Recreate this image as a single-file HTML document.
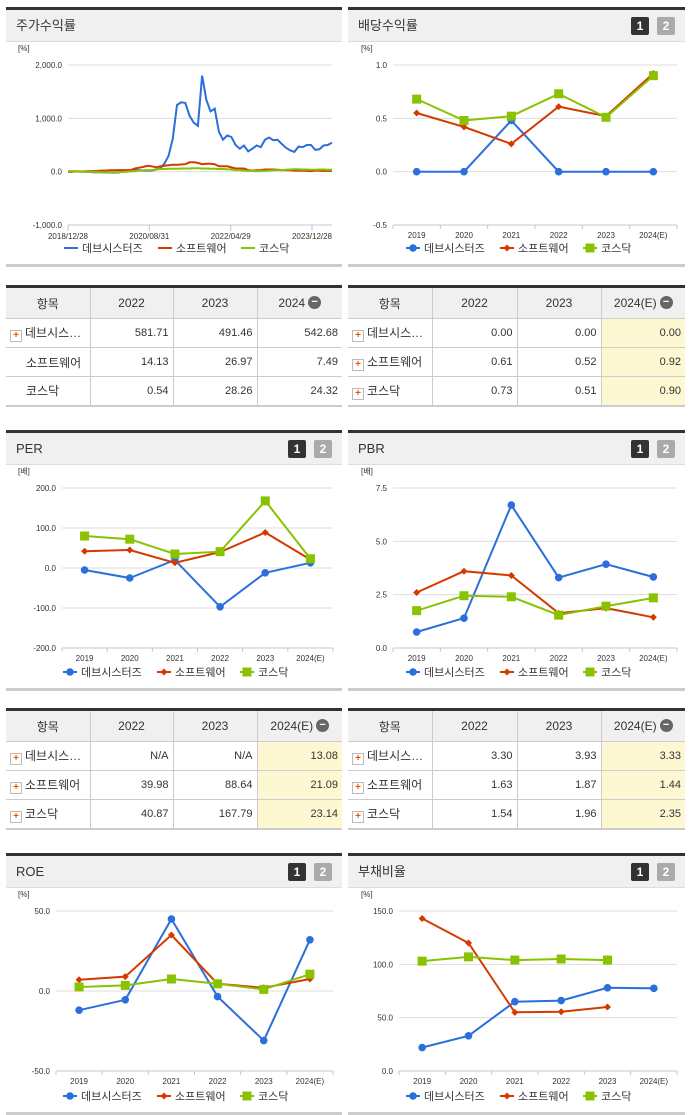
<!DOCTYPE html>
<html><head><meta charset="utf-8">
<style>
body{margin:0;width:691px;height:1115px;position:relative;background:#fff;font-family:"Liberation Sans","Noto Sans CJK KR",sans-serif;overflow:hidden;color:#333}
.panel{position:absolute;border-top:3px solid #333;border-bottom:3px solid #ccc;box-sizing:border-box}
.hd{height:31px;background:#f0f0f0;border-bottom:1px solid #ddd;font-size:13px;line-height:31px;padding-left:10px;position:relative}
.b{position:absolute;top:7px;width:18px;height:18px;font-size:12px;font-weight:bold;color:#fff;text-align:center;line-height:18px;border-radius:2px}
table{position:absolute;border-collapse:collapse;font-size:12px;border-top:3px solid #333;border-bottom:2px solid #ccc}
td{border:1px solid #ccc;height:29px;text-align:right;padding-right:4px;box-sizing:border-box;font-size:11px}
tr:first-child td{background:#f0f0f0;text-align:center;height:32px;font-size:12px;padding:0;white-space:nowrap}
td.n{text-align:left;padding-left:4px;font-size:12px}
tr td:first-child{border-left:none}tr td:last-child{border-right:none}
.y{background:#fdf8d2}
.p{display:inline-block;width:10px;height:10px;border:1px solid #bbb;background:#fff;color:#e85a00;font-size:10px;line-height:10px;text-align:center;font-weight:bold;margin-right:3px;vertical-align:-1px}
.m{display:inline-block;width:13px;height:13px;border-radius:50%;background:#666;color:#fff;line-height:12px;font-size:11px;font-weight:bold;vertical-align:middle;margin-left:3px;margin-top:-2px}
svg{position:absolute;left:0;top:0}
</style></head><body>
<div class="panel" style="left:6px;top:7px;width:336px;height:260px"><div class="hd">주가수익률</div></div>
<div class="panel" style="left:348px;top:7px;width:337px;height:260px"><div class="hd">배당수익률<span class="b" style="left:283px;background:#333">1</span><span class="b" style="left:309px;background:#aaa">2</span></div></div>
<div class="panel" style="left:6px;top:430px;width:336px;height:261px"><div class="hd">PER<span class="b" style="left:282px;background:#333">1</span><span class="b" style="left:308px;background:#aaa">2</span></div></div>
<div class="panel" style="left:348px;top:430px;width:337px;height:261px"><div class="hd">PBR<span class="b" style="left:283px;background:#333">1</span><span class="b" style="left:309px;background:#aaa">2</span></div></div>
<div class="panel" style="left:6px;top:853px;width:336px;height:262px"><div class="hd">ROE<span class="b" style="left:282px;background:#333">1</span><span class="b" style="left:308px;background:#aaa">2</span></div></div>
<div class="panel" style="left:348px;top:853px;width:337px;height:262px"><div class="hd">부채비율<span class="b" style="left:283px;background:#333">1</span><span class="b" style="left:309px;background:#aaa">2</span></div></div>

<table style="left:6px;top:285px;width:336px">
<tr><td style="width:84px">항목</td><td style="width:83px">2022</td><td style="width:84px">2023</td><td>2024<span class="m">−</span></td></tr>
<tr><td class="n"><span class="p">+</span>데브시스…</td><td>581.71</td><td>491.46</td><td>542.68</td></tr>
<tr><td class="n" style="padding-left:20px">소프트웨어</td><td>14.13</td><td>26.97</td><td>7.49</td></tr>
<tr><td class="n" style="padding-left:20px">코스닥</td><td>0.54</td><td>28.26</td><td>24.32</td></tr></table>

<table style="left:348px;top:285px;width:337px">
<tr><td style="width:84px">항목</td><td style="width:85px">2022</td><td style="width:84px">2023</td><td>2024(E)<span class="m">−</span></td></tr>
<tr><td class="n"><span class="p">+</span>데브시스…</td><td>0.00</td><td>0.00</td><td class="y">0.00</td></tr>
<tr><td class="n"><span class="p">+</span>소프트웨어</td><td>0.61</td><td>0.52</td><td class="y">0.92</td></tr>
<tr><td class="n"><span class="p">+</span>코스닥</td><td>0.73</td><td>0.51</td><td class="y">0.90</td></tr></table>

<table style="left:6px;top:708px;width:336px">
<tr><td style="width:84px">항목</td><td style="width:83px">2022</td><td style="width:84px">2023</td><td class="y">2024(E)<span class="m">−</span></td></tr>
<tr><td class="n"><span class="p">+</span>데브시스…</td><td>N/A</td><td>N/A</td><td class="y">13.08</td></tr>
<tr><td class="n"><span class="p">+</span>소프트웨어</td><td>39.98</td><td>88.64</td><td class="y">21.09</td></tr>
<tr><td class="n"><span class="p">+</span>코스닥</td><td>40.87</td><td>167.79</td><td class="y">23.14</td></tr></table>

<table style="left:348px;top:708px;width:337px">
<tr><td style="width:84px">항목</td><td style="width:85px">2022</td><td style="width:84px">2023</td><td class="y">2024(E)<span class="m">−</span></td></tr>
<tr><td class="n"><span class="p">+</span>데브시스…</td><td>3.30</td><td>3.93</td><td class="y">3.33</td></tr>
<tr><td class="n"><span class="p">+</span>소프트웨어</td><td>1.63</td><td>1.87</td><td class="y">1.44</td></tr>
<tr><td class="n"><span class="p">+</span>코스닥</td><td>1.54</td><td>1.96</td><td class="y">2.35</td></tr></table>

<svg id="s" width="691" height="1115"></svg>
<script>
const seriesNames=["데브시스터즈","소프트웨어","코스닥"];
const colors=["#2a6fdb","#d43a00","#88c200"];
const years=["2019","2020","2021","2022","2023","2024(E)"];
// stock return (%)
const stockTicks=["2018/12/28","2020/08/31","2022/04/29","2023/12/28"];
const stockBlue=[0,5,5,0,0,-5,-10,-10,-10,-15,-15,-20,-15,0,10,20,30,30,20,20,20,40,60,150,300,620,1250,1300,1290,1050,920,860,1800,1350,1130,1180,750,600,680,650,500,430,490,380,430,490,460,600,640,590,600,520,450,400,370,470,460,500,500,410,420,490,500,545];
const stockRed=[0,0,5,5,5,10,10,15,20,20,25,25,30,30,30,30,60,75,90,110,100,80,100,110,120,130,130,135,140,175,175,165,140,150,150,140,100,100,100,80,60,60,60,30,20,25,30,40,40,40,35,30,30,25,20,20,20,15,10,20,20,15,15,15];
const stockGreen=[10,10,5,5,0,0,-5,-5,-10,-10,-10,-15,-10,-5,0,5,10,20,25,30,30,40,50,50,55,55,55,60,60,60,65,65,60,60,55,55,50,50,45,40,30,30,20,15,15,10,10,15,20,25,30,30,35,40,45,45,40,40,35,35,40,40,35,35];
// dividend yield (%)
const divBlue=[0,0,0.48,0,0,0];
const divRed=[0.55,0.42,0.26,0.61,0.52,0.92];
const divGreen=[0.68,0.48,0.52,0.73,0.51,0.90];
// PER
const perBlue=[-5,-25,20,-97,-12,13.08];
const perRed=[42,45,13,39.98,88.64,21.09];
const perGreen=[80,72,35,40.87,167.79,23.14];
// PBR
const pbrBlue=[0.75,1.4,6.7,3.30,3.93,3.33];
const pbrRed=[2.6,3.6,3.4,1.63,1.87,1.44];
const pbrGreen=[1.75,2.45,2.4,1.54,1.96,2.35];
// ROE
const roeBlue=[-12,-5.5,45,-3.5,-31,32];
const roeRed=[7,9,35,4.5,2,7.5];
const roeGreen=[2.5,3.5,7.5,4.5,1,10.5];
// debt ratio
const debtBlue=[22,33,65,66,78,77.5];
const debtRed=[143,120,55,55.5,60,null];
const debtGreen=[103,107,104,105,104,null];

const svg=document.getElementById('s');const NS='http://www.w3.org/2000/svg';
function el(t,a,txt){const e=document.createElementNS(NS,t);for(const k in a)e.setAttribute(k,a[k]);if(txt!=null)e.textContent=txt;svg.appendChild(e);return e;}
function fmt(v,d){return v.toLocaleString('en-US',{minimumFractionDigits:d,maximumFractionDigits:d});}
function chart(o){
  const Y=v=>o.y0+(v-o.vmin)/(o.vmax-o.vmin)*(o.y1-o.y0);
  const n=o.n;const X=o.cat?(i=>o.x0+(i+0.5)*(o.x1-o.x0)/n):(i=>o.x0+i*(o.x1-o.x0)/(n-1));
  let t=el('text',{x:o.ux,y:o.y1-14,'font-size':8,fill:'#333'},o.unit);
  
  o.ticks.forEach(v=>{const y=Y(v);
    if(v!==o.vmin){const g=el('line',{x1:o.x0,x2:o.x1,y1:y,y2:y,stroke:'#ddd','stroke-width':1});}
    const l=el('text',{x:o.x0-6,y:y+3,'font-size':8,'text-anchor':'end',fill:'#333'},fmt(v,1));});
  const ab=Y(o.vmin);const ax=el('line',{x1:o.x0,x2:o.x1,y1:ab,y2:ab,stroke:'#bcc8d8'});
  if(o.cat){for(let i=0;i<=n;i++){const x=o.x0+i*(o.x1-o.x0)/n;el('line',{x1:x,x2:x,y1:ab,y2:ab+4,stroke:'#bcc8d8'});}
    years.forEach((c,i)=>{const l=el('text',{x:X(i),y:ab+13,'font-size':8,'text-anchor':'middle',fill:'#333'},c);});}
  else{stockTicks.forEach((c,i)=>{const x=o.x0+i*(o.x1-o.x0-20)/3;el('line',{x1:x,x2:x,y1:ab,y2:ab+6,stroke:'#bcc8d8'});const l=el('text',{x:x,y:ab+14,'font-size':8,'text-anchor':'middle',fill:'#333'},c);});}
  o.series.forEach((s,k)=>{let d='';s.forEach((v,i)=>{if(v==null)return;d+=(d?'L':'M')+X(i).toFixed(1)+' '+Y(v).toFixed(1);});
    const p=el('path',{d:d,fill:'none',stroke:colors[k],'stroke-width':2});
    if(o.cat)s.forEach((v,i)=>{if(v==null)return;const m=marker(k,X(i),Y(v));});});
  let lx=o.lx;seriesNames.forEach((nm,k)=>{el('line',{x1:lx,x2:lx+14,y1:o.ly,y2:o.ly,stroke:colors[k],'stroke-width':2});
    if(o.cat)marker(k,lx+7,o.ly);
    const l=el('text',{x:lx+18,y:o.ly+4,'font-size':11,fill:'#333'},nm);
    lx+=nm.length*11+28;});
}
function marker(k,x,y){if(k===0)return el('circle',{cx:x,cy:y,r:3.8,fill:colors[0]});
  if(k===1)return el('path',{d:`M${x} ${y-3.5}L${x+3.5} ${y}L${x} ${y+3.5}L${x-3.5} ${y}Z`,fill:colors[1]});
  return el('rect',{x:x-4.5,y:y-4.5,width:9,height:9,fill:colors[2]});}
chart({x0:68,x1:332,y0:225,y1:65,vmin:-1000,vmax:2000,ticks:[2000,1000,0,-1000],n:stockBlue.length,series:[stockBlue,stockRed,stockGreen],unit:'[%]',ux:18,lx:64,ly:248,cat:false});
chart({x0:393,x1:677,y0:225,y1:65,vmin:-0.5,vmax:1.0,ticks:[1.0,0.5,0.0,-0.5],n:6,series:[divBlue,divRed,divGreen],unit:'[%]',ux:361,lx:406,ly:248,cat:true});
chart({x0:62,x1:333,y0:648,y1:488,vmin:-200,vmax:200,ticks:[200,100,0,-100,-200],n:6,series:[perBlue,perRed,perGreen],unit:'[배]',ux:18,lx:63,ly:672,cat:true});
chart({x0:393,x1:677,y0:648,y1:488,vmin:0,vmax:7.5,ticks:[7.5,5.0,2.5,0.0],n:6,series:[pbrBlue,pbrRed,pbrGreen],unit:'[배]',ux:361,lx:406,ly:672,cat:true});
chart({x0:56,x1:333,y0:1071,y1:911,vmin:-50,vmax:50,ticks:[50,0,-50],n:6,series:[roeBlue,roeRed,roeGreen],unit:'[%]',ux:18,lx:63,ly:1096,cat:true});
chart({x0:399,x1:677,y0:1071,y1:911,vmin:0,vmax:150,ticks:[150,100,50,0],n:6,series:[debtBlue,debtRed,debtGreen],unit:'[%]',ux:361,lx:406,ly:1096,cat:true});
</script>
</body></html>
